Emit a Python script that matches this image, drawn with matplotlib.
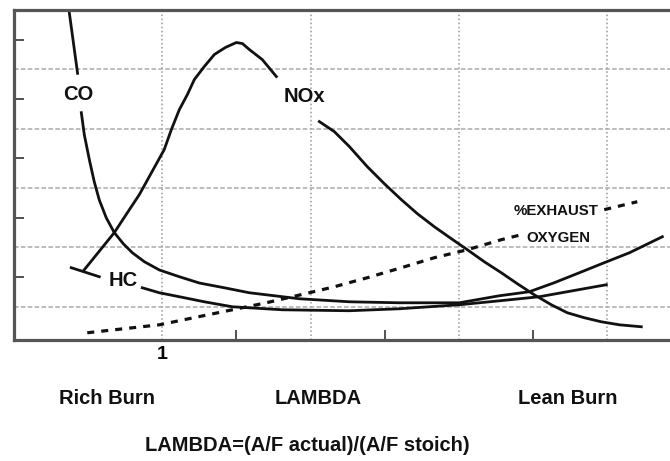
import matplotlib
matplotlib.use("Agg")
from matplotlib import pyplot as plt
from matplotlib.ticker import MultipleLocator

plt.rcParams['font.family'] = ['Liberation Sans', 'DejaVu Sans']

# kreives (lambda, santykinis dydis)
co_top_x = [0.937, 0.943]
co_top_y = [6.01, 4.91]
co_x = [0.9454, 0.9474, 0.9508, 0.9541, 0.9575, 0.9622, 0.9676, 0.9737, 0.9798, 0.9879,
        0.998, 1.0115, 1.025, 1.0418, 1.0587, 1.0924, 1.1261, 1.1598, 1.2003, 1.2272,
        1.2475, 1.2643, 1.2812, 1.298, 1.315, 1.3372]
co_y = [4.27, 3.90, 3.48, 3.108, 2.80, 2.50, 2.25, 2.062, 1.91, 1.759,
        1.62, 1.506, 1.40, 1.32, 1.236, 1.135, 1.084, 1.067, 1.067, 1.185,
        1.253, 1.405, 1.573, 1.742, 1.91, 2.18]

hc_left_x = [0.9386, 0.9575]
hc_left_y = [1.658, 1.506]
hc_x = [0.9865, 0.998, 1.0115, 1.0283, 1.0472, 1.081, 1.1261, 1.1598, 1.2003, 1.2272,
        1.2542, 1.2994]
hc_y = [1.32, 1.236, 1.169, 1.084, 1.0, 0.949, 0.933, 0.966, 1.034, 1.10,
        1.169, 1.371]

nox_x = [0.9474, 0.9676, 0.976, 0.9845, 1.0013, 1.0061, 1.0115, 1.0169, 1.0216, 1.0283,
         1.0351, 1.0425, 1.0499, 1.054, 1.0587, 1.0674, 1.0769]
nox_y = [1.624, 2.248, 2.568, 2.889, 3.648, 3.985, 4.322, 4.575, 4.828, 5.047,
         5.25, 5.368, 5.452, 5.435, 5.334, 5.165, 4.879]
nox2_x = [1.1059, 1.116, 1.1261, 1.1382, 1.1497, 1.1612, 1.172, 1.1834, 1.1949, 1.2057,
          1.2171, 1.2286, 1.2394, 1.2508, 1.2623, 1.2731, 1.2846, 1.296, 1.3082, 1.323]
nox2_y = [4.12, 3.951, 3.70, 3.361, 3.074, 2.804, 2.568, 2.349, 2.147, 1.961,
          1.759, 1.573, 1.388, 1.202, 1.034, 0.899, 0.815, 0.747, 0.696, 0.663]

o2_x = [0.9494, 0.998, 1.0472, 1.0701, 1.0991, 1.116, 1.1382, 1.1612, 1.1834, 1.2057, 1.2286, 1.2421]
o2_y = [0.562, 0.696, 0.949, 1.067, 1.236, 1.337, 1.489, 1.658, 1.826, 1.961, 2.13, 2.214]
o2_end_x = [1.298, 1.3203]
o2_end_y = [2.636, 2.77]

W, H = 670, 461
fig = plt.figure(figsize=(W / 100, H / 100), dpi=100)
ax = fig.add_axes([14 / W, 1 - 340 / H, (670 - 14) / W, 330 / H])

juoda = '#111111'
lw = 2.0
ax.plot(co_top_x, co_top_y, color=juoda, lw=lw, solid_capstyle='butt')
ax.plot(co_x, co_y, color=juoda, lw=lw)
ax.plot(hc_left_x, hc_left_y, color=juoda, lw=lw)
ax.plot(hc_x, hc_y, color=juoda, lw=lw)
ax.plot(nox_x, nox_y, color=juoda, lw=lw)
ax.plot(nox2_x, nox2_y, color=juoda, lw=lw)
ax.plot(o2_x, o2_y, color=juoda, lw=2.3, linestyle=(0, (2.2, 2.2)))
ax.plot(o2_end_x, o2_end_y, color=juoda, lw=2.3, linestyle=(0, (2.2, 2.2)))

sriftas = dict(fontweight='bold', color=juoda, ha='center', va='center')
ax.text(0.9434, 4.58, 'CO', fontsize=14.5, **sriftas)
ax.text(1.0958, 4.54, 'NOx', fontsize=14.5, **sriftas)
ax.text(0.9737, 1.44, 'HC', fontsize=14.5, **sriftas)
ax.text(1.2657, 2.61, '%EXHAUST', fontsize=10.8, **sriftas)
ax.text(1.2671, 2.16, 'OXYGEN', fontsize=10.8, **sriftas)

ax.set_xlim(0.9, 0.9 + (670 - 14) / 1483)
ax.set_ylim(0.44, 6.0)
ax.set_xticks([1.0, 1.1, 1.2, 1.3])
ax.set_xticklabels(['1', '', '', ''], fontsize=14, fontweight='bold')
ax.set_xticks([1.05, 1.15, 1.25], minor=True)
ax.set_yticks([1, 2, 3, 4, 5])
ax.set_yticklabels([])
ax.set_yticks([1.5, 2.5, 3.5, 4.5, 5.5], minor=True)
ax.tick_params(axis='both', which='major', length=0, pad=4)
ax.tick_params(axis='both', which='minor', direction='in', length=7, width=1.3, color='#444444')
ax.grid(True, axis='x', which='major', color='#999999', linestyle=':', lw=1.1)
ax.grid(True, axis='y', which='major', color='#aaaaaa', linestyle=(0, (3, 1.5)), lw=1.1)

for s in ['top', 'left', 'bottom']:
    ax.spines[s].set_linewidth(2.3)
    ax.spines[s].set_color('#555555')
ax.spines['right'].set_visible(False)

fig.text(107 / W, 1 - 398 / H, 'Rich Burn', fontsize=14.5, **sriftas)
fig.text(318 / W, 1 - 398 / H, 'LAMBDA', fontsize=14.5, **sriftas)
fig.text(568 / W, 1 - 398 / H, 'Lean Burn', fontsize=14.5, **sriftas)
fig.text(307 / W, 1 - 445 / H, 'LAMBDA=(A/F actual)/(A/F stoich)', fontsize=14.5, **sriftas)

fig.savefig('out.png', dpi=100)
